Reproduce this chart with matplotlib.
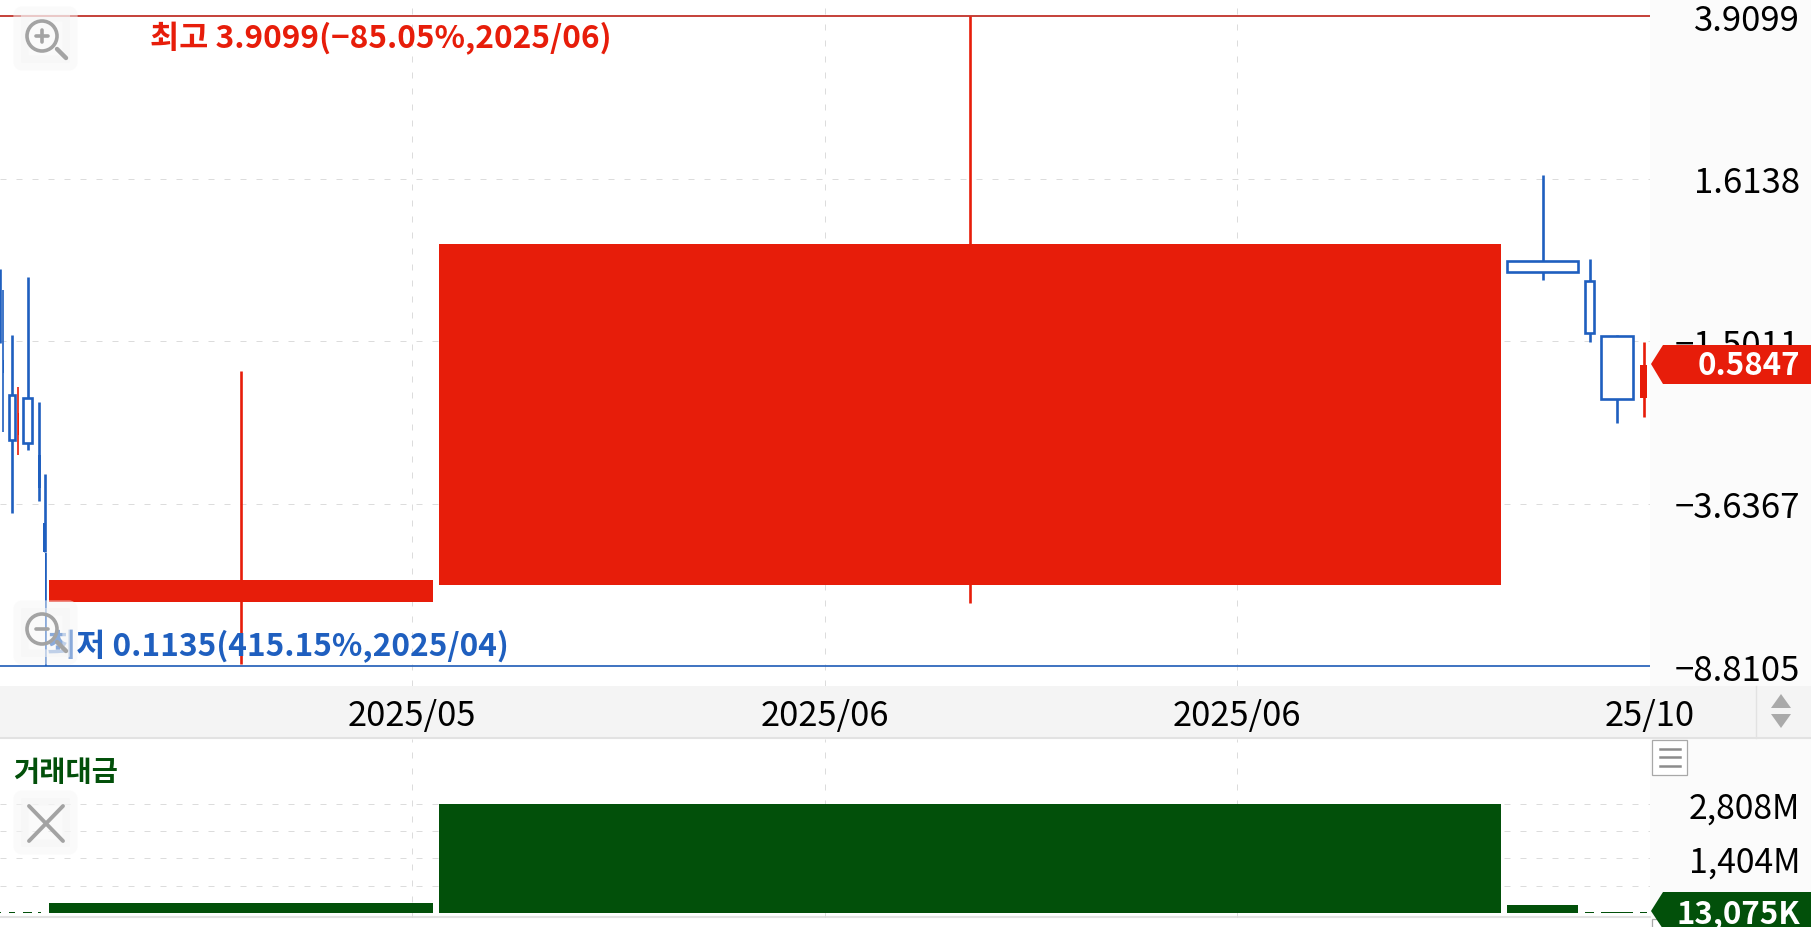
import matplotlib
matplotlib.use('Agg')
import matplotlib.pyplot as plt
from matplotlib.patches import Circle, FancyBboxPatch, Polygon, Rectangle

plt.rcParams['font.family'] = ['Noto Sans CJK KR', 'DejaVu Sans']

# candles, x in chart units (one period does not have one width here)
candle_start = [-1, 2.5, 9, 17.5, 23, 37.5, 43, 45, 49, 439, 1507, 1585, 1601, 1640]
candle_end = [1, 3.5, 14.5, 18.5, 32, 40.5, 46, 46, 433, 1501, 1578, 1594, 1633, 1647]
open_price = [0.80, 0.60, 0.497, 0.40, 0.488, 0.358, 0.247, 0.210, 0.161, 0.176, 1.030, 0.924, 0.685, 0.488]
close_price = [0.75, 0.56, 0.389, 0.45, 0.382, 0.299, 0.211, 0.1135, 0.181, 1.130, 0.970, 0.696, 0.486, 0.5847]
high_price = [0.986, 0.880, 0.688, 0.519, 0.944, 0.478, 0.323, 0.210, 0.566, 3.9099, 1.645, 1.041, 0.688, 0.663]
low_price = [0.659, 0.406, 0.261, 0.358, 0.368, 0.279, 0.211, 0.1135, 0.1148, 0.160, 0.929, 0.663, 0.426, 0.440]
trade_value = [14, 10, 22, 6, 24, 18, 12, 8, 258, 2808, 206, 16, 14, 13.075]

price_ticks = [3.9099, 1.6138, 0.6661, 0.2749, 0.1135]
price_labels = ['3.9099', '1.6138', '\u22121.5011', '\u22123.6367', '\u22128.8105']
date_ticks = [412, 825, 1237, 1650]
date_labels = ['2025/05', '2025/06', '2025/06', '25/10']
value_ticks = [702, 1404, 2106, 2808]
value_labels = ['', '1,404M', '', '2,808M']

RED = '#e71d0a'
BLUE = '#1f5fbf'
GREEN = '#02500a'
GREY = '#a3a3a3'
W, H = 1811, 928


def px_axes(fig, x0, y0, x1, y1, **kw):
    return fig.add_axes([x0 / W, 1 - y1 / H, (x1 - x0) / W, (y1 - y0) / H], **kw)


fig = plt.figure(figsize=(W / 100, H / 100), dpi=100, facecolor='white')

# background panels
bg = px_axes(fig, 0, 0, W, H, zorder=0)
bg.set_xlim(0, W)
bg.set_ylim(H, 0)
bg.axis('off')
bg.add_patch(Rectangle((1650, 0), W - 1650, H, fc='#fbfbfb', ec='none'))
bg.add_patch(Rectangle((0, 687), W, 52, fc='#f4f4f4', ec='none'))
bg.plot([0, W], [739, 739], color='#e2e2e2', lw=1.5)
bg.plot([1756, 1756], [687, 739], color='#e2e2e2', lw=1)
bg.plot([0, 1650], [918, 918], color='#e2e2e2', lw=1.5)

# price panel
ax1 = px_axes(fig, 0, 1, 1650, 687, zorder=1)
ax1.patch.set_alpha(0)
ax1.set_yscale('log')
ax1.set_xlim(0, 1650)
ax1.set_ylim(0.1018, 4.266)
ax1.set_yticks(price_ticks, price_labels)
ax1.minorticks_off()
ax1.yaxis.tick_right()
ax1.tick_params(axis='y', length=0, pad=108, labelsize=25)
for lab in ax1.get_yticklabels():
    lab.set_ha('right')
ax1.set_xticks(date_ticks, date_labels)
ax1.tick_params(axis='x', length=0, pad=8.5, labelsize=24.8)
for s in ax1.spines.values():
    s.set_visible(False)
ax1.set_axisbelow(True)

# dashed grid, top and bottom price lines are the high / low markers instead
dash = (0, (6, 10))
for p in price_ticks[1:-1]:
    ax1.axhline(p, color='#dcdcdc', lw=0.72, ls=dash, zorder=0.5)
for d in date_ticks[:-1]:
    ax1.axvline(d, color='#dcdcdc', lw=0.72, ls=dash, zorder=0.5)
ax1.axhline(high_price[9], color='#c0312a', lw=1.3, zorder=1)
ax1.axhline(low_price[7], color='#2f68bc', lw=1.3, zorder=1)

for i in range(len(candle_start)):
    up = close_price[i] > open_price[i]
    col = RED if up else BLUE
    mid = (candle_start[i] + candle_end[i]) / 2
    wide = candle_end[i] - candle_start[i]
    ax1.vlines(mid, low_price[i], high_price[i], color=col, lw=1.9 if wide > 1 else 1.2, zorder=2)
    bottom = min(open_price[i], close_price[i])
    top_price = max(open_price[i], close_price[i])
    if not up and wide > 5:
        ax1.bar(mid, top_price - bottom, wide, bottom, fc='white', ec=col, lw=1.9, zorder=3)
    else:
        ax1.bar(mid, top_price - bottom, wide, bottom, fc=col, ec='none', zorder=3)

ax1.text(150, 39, '최고 3.9099(\u221285.05%,2025/06)', color=RED, fontsize=22.8,
         fontweight='bold', va='center', transform=bg.transData)
ax1.text(47, 647, '최저 0.1135(415.15%,2025/04)', color=BLUE, fontsize=22.8,
         fontweight='bold', va='center', transform=bg.transData)

# traded value panel
ax2 = px_axes(fig, 0, 740, 1650, 919, zorder=1)
ax2.patch.set_alpha(0)
ax2.set_xlim(0, 1650)
ax2.set_ylim(-129, 4482)
ax2.set_yticks(value_ticks, value_labels)
ax2.yaxis.tick_right()
ax2.tick_params(axis='y', length=0, pad=108, labelsize=24.3)
for lab in ax2.get_yticklabels():
    lab.set_ha('right')
ax2.set_xticks([])
for s in ax2.spines.values():
    s.set_visible(False)
for v in value_ticks:
    ax2.axhline(v, color='#dcdcdc', lw=0.72, ls=dash, zorder=0.5)
for d in date_ticks[:-1]:
    ax2.axvline(d, color='#dcdcdc', lw=0.72, ls=dash, zorder=0.5)
for i in range(len(candle_start)):
    ax2.bar((candle_start[i] + candle_end[i]) / 2, trade_value[i], candle_end[i] - candle_start[i],
            color=GREEN, zorder=3)
ax2.text(13, 773, '거래대금', color=GREEN, fontsize=20.5, fontweight='bold', va='center',
         transform=bg.transData)

# chrome on top, in pixels
top = px_axes(fig, 0, 0, W, H, zorder=5)
top.set_xlim(0, W)
top.set_ylim(H, 0)
top.axis('off')
top.patch.set_alpha(0)

for y0 in [7, 601, 791]:
    top.add_patch(FancyBboxPatch((21, y0 + 8), 49, 49, boxstyle='round,pad=0,rounding_size=1', fc='#f6f6f6',
                                 ec='#f6f6f6', lw=11, alpha=0.5, joinstyle='round'))
for cy, plus in [(37, True), (630, False)]:
    top.add_patch(Circle((42, cy), 15, fc='none', ec=GREY, lw=2.6))
    top.plot([57, 66], [cy + 13, cy + 22], color=GREY, lw=3.2, solid_capstyle='round')
    top.plot([36, 48], [cy, cy], color=GREY, lw=2.6, solid_capstyle='round')
    if plus:
        top.plot([42, 42], [cy - 6, cy + 6], color=GREY, lw=2.6, solid_capstyle='round')
top.plot([29, 63], [807, 842], color=GREY, lw=2.8, solid_capstyle='round')
top.plot([29, 63], [842, 807], color=GREY, lw=2.8, solid_capstyle='round')

# date bar arrows
top.add_patch(Polygon([[1781, 695], [1771, 709], [1791, 709]], fc='#aaaaaa', ec='none'))
top.add_patch(Polygon([[1771, 715], [1791, 715], [1781, 729]], fc='#aaaaaa', ec='none'))

# menu boxes
top.add_patch(Rectangle((1652, 741), 35, 35, fc='white', ec='#a8a8a8', lw=0.9))
top.add_patch(Rectangle((1652, 920), 35, 35, fc='white', ec='#a8a8a8', lw=0.9))
for y in [750, 758, 766.5]:
    top.plot([1660, 1680], [y, y], color='#8c8c8c', lw=1.8)

# last value tags
top.add_patch(Polygon([[1651, 365], [1663, 346], [W, 346], [W, 385], [1663, 385]], fc=RED, ec='none'))
top.text(1800, 366, '0.5847', color='white', fontsize=22.5, ha='right', va='center', fontweight='bold')
top.add_patch(Polygon([[1651, 912], [1663, 893], [W, 893], [W, 930], [1663, 930]], fc=GREEN, ec='none'))
top.text(1800, 914, '13,075K', color='white', fontsize=22.5, ha='right', va='center', fontweight='bold')

plt.savefig('out.png', dpi=100)
